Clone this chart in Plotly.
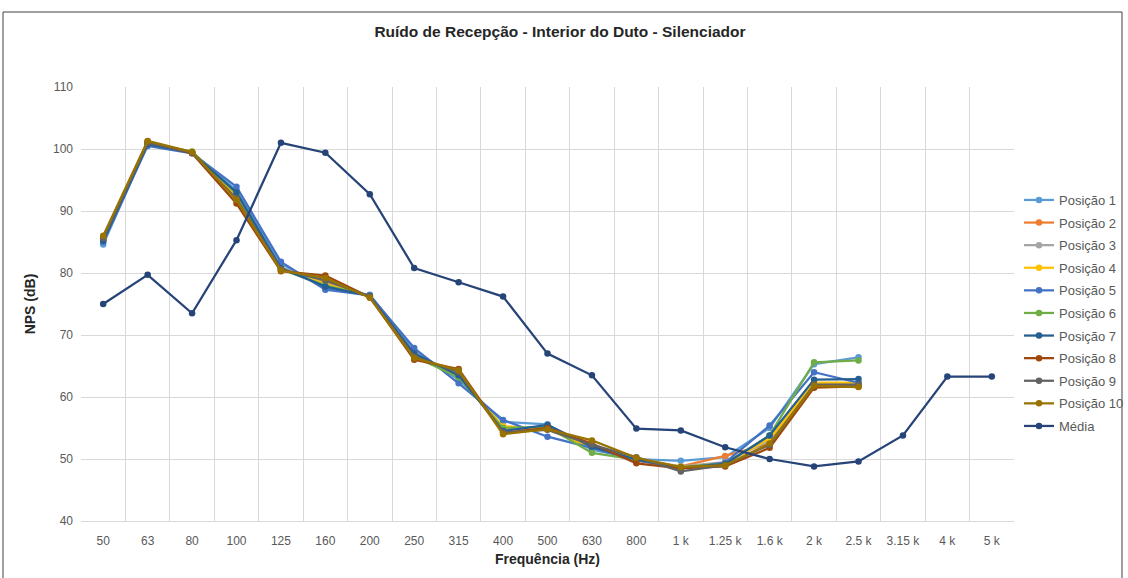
import plotly.graph_objects as go

categories = ["50", "63", "80", "100", "125", "160", "200", "250", "315", "400", "500",
              "630", "800", "1 k", "1.25 k", "1.6 k", "2 k", "2.5 k", "3.15 k", "4 k", "5 k"]

pos1 = [84.6, 100.8, 99.4, 93.3, 81.5, 77.6, 76.5, 67.5, 62.8, 56.0, 55.6, 51.5, 50.0, 49.7, 50.3, 55.0, 65.3, 66.4]
pos2 = [85.5, 101.0, 99.4, 92.0, 80.8, 78.5, 76.2, 66.8, 63.5, 54.8, 54.8, 52.0, 49.7, 48.8, 50.5, 52.5, 61.8, 62.0]
pos3 = [85.4, 101.0, 99.5, 92.3, 80.9, 78.3, 76.3, 67.0, 63.5, 55.0, 55.0, 52.0, 50.0, 48.8, 49.5, 53.0, 62.0, 62.2]
pos4 = [85.6, 101.1, 99.5, 92.5, 80.7, 78.2, 76.3, 66.8, 63.3, 55.3, 54.8, 51.8, 50.1, 48.7, 49.3, 53.3, 62.3, 62.3]
pos5 = [85.0, 100.5, 99.3, 93.9, 81.8, 77.3, 76.4, 67.9, 62.2, 56.3, 53.6, 51.8, 49.8, 48.5, 49.4, 55.4, 64.0, 62.3]
pos6 = [85.3, 101.0, 99.6, 92.8, 80.6, 78.0, 76.3, 66.5, 63.2, 55.0, 55.2, 51.0, 49.9, 48.7, 49.2, 53.8, 65.6, 65.9]
pos7 = [85.2, 100.8, 99.4, 93.0, 80.8, 77.8, 76.3, 67.0, 63.5, 54.5, 55.5, 52.0, 49.9, 48.6, 49.2, 53.8, 62.8, 62.9]
pos8 = [85.8, 101.2, 99.3, 91.2, 80.3, 79.6, 76.1, 66.0, 64.5, 54.2, 55.0, 52.5, 49.3, 48.5, 48.8, 51.8, 61.5, 61.7]
pos9 = [85.6, 101.0, 99.4, 92.0, 80.6, 78.8, 76.2, 66.5, 64.0, 54.3, 54.7, 52.3, 50.3, 48.0, 49.0, 52.3, 62.0, 62.0]
pos10 = [86.0, 101.3, 99.5, 91.8, 80.4, 79.2, 76.0, 66.3, 64.3, 54.0, 54.8, 53.0, 50.2, 48.7, 49.0, 52.5, 61.8, 61.6]
media = [75.0, 79.7, 73.5, 85.3, 101.0, 99.4, 92.7, 80.8, 78.5, 76.2, 67.0, 63.5, 54.9, 54.6,
         51.9, 50.0, 48.8, 49.6, 53.8, 63.3, 63.3]

series_names = ["Posição 1", "Posição 2", "Posição 3", "Posição 4", "Posição 5",
                "Posição 6", "Posição 7", "Posição 8", "Posição 9", "Posição 10", "Média"]
series_values = [pos1, pos2, pos3, pos4, pos5, pos6, pos7, pos8, pos9, pos10, media]
colors = ["#5B9BD5", "#ED7D31", "#A5A5A5", "#FFC000", "#4472C4", "#70AD47",
          "#255E91", "#9E480E", "#636363", "#997300", "#264478"]

fig = go.Figure()
for name, vals, col in zip(series_names, series_values, colors):
    fig.add_trace(go.Scatter(
        x=categories[:len(vals)], y=vals, name=name, legendgroup=name,
        mode="lines+markers",
        line=dict(color=col, width=2.25), marker=dict(color=col, size=6.5),
    ))

W, H = 1128, 578
L, R, T, B = 81, 114, 87, 57
pw, ph = W - L - R, H - T - B
TFONT = "Liberation Sans Narrow, Liberation Sans, Arial, sans-serif"

fig.update_layout(
    width=W, height=H,
    margin=dict(l=L, r=R, t=T, b=B, autoexpand=False),
    paper_bgcolor="white", plot_bgcolor="white",
    font=dict(family="Liberation Sans, Arial, sans-serif", size=12, color="#595959"),
    title=dict(text="<b>Ruído de Recepção - Interior do Duto - Silenciador</b>",
               x=(560 - L) / pw, xref="paper", xanchor="center", y=1 - 32 / H, yanchor="middle",
               font=dict(family=TFONT, size=15.5, color="#262626")),
    xaxis=dict(type="category", categoryorder="array", categoryarray=categories,
               tickson="boundaries", showgrid=True, gridcolor="#D9D9D9", gridwidth=1,
               showline=True, linecolor="#D9D9D9", linewidth=1, ticks="",
               ticklabelstandoff=9,
               range=[-0.5, len(categories) - 0.5],
               tickfont=dict(size=12, color="#595959"),
               title=dict(text="<b>Frequência (Hz)</b>", standoff=6,
                          font=dict(family=TFONT, size=14, color="#262626"))),
    yaxis=dict(range=[40, 110], dtick=10, showgrid=True, gridcolor="#D9D9D9", gridwidth=1,
               zeroline=False, showline=False, ticks="", ticklabelstandoff=7,
               tickfont=dict(size=12, color="#595959"),
               title=dict(text="<b>NPS (dB)</b>", standoff=14,
                          font=dict(family=TFONT, size=14, color="#262626"))),
    legend=dict(x=(1019 - L) / pw, xanchor="left", y=(H - B - 313) / ph, yanchor="middle",
                font=dict(size=13, color="#595959"), bgcolor="rgba(0,0,0,0)",
                itemwidth=30, tracegroupgap=2.7, traceorder="grouped"),
    showlegend=True,
)

fig.add_shape(type="rect", xref="paper", yref="paper",
              x0=(3 - L) / pw, x1=(1122 - L) / pw,
              y0=(H - B - 590) / ph, y1=(H - B - 12) / ph,
              line=dict(color="#404040", width=1), fillcolor="rgba(0,0,0,0)", layer="below")

fig.write_html("out.html", config={"displayModeBar": False},
               post_script="document.body.style.margin='0';")
